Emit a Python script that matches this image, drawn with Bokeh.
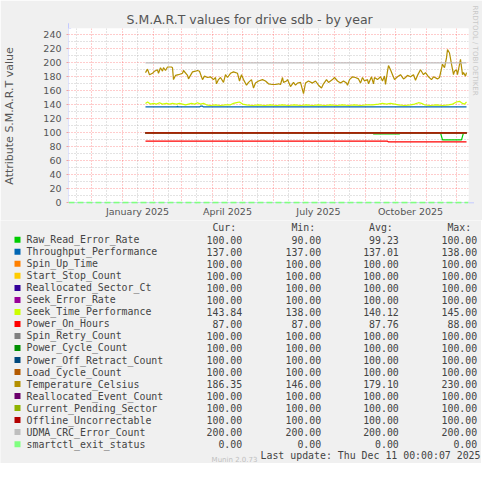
import numpy as np
from bokeh.plotting import figure
from bokeh.layouts import column
from bokeh.models import (FixedTicker, Arrow, NormalHead, Range1d, DatetimeTickFormatter, Title)
from bokeh.core.properties import value
from bokeh.embed import file_html
from bokeh.resources import INLINE

# ---------------- data (days counted from 2025-01-01) ----------------
temp_days = [23, 25, 27, 30, 32, 35, 36, 38, 40, 41, 43, 45, 49, 50, 51, 53, 56, 60, 61, 65,
             66, 70, 73, 75, 77, 80, 82, 85, 88, 91, 93, 94, 96, 98, 101, 103, 105, 108, 111, 115,
             117, 119, 121, 124, 126, 129, 131, 133, 136, 140, 143, 146, 150, 153, 156, 158, 160, 161, 164, 165,
             168, 171, 173, 175, 178, 181, 183, 186, 190, 193, 196, 199, 201, 204, 206, 210, 212, 215, 218, 221,
             224, 225, 227, 230, 233, 236, 238, 240, 242, 245, 246, 249, 251, 252, 255, 258, 260, 262, 263, 265,
             266, 268, 270, 272, 275, 278, 281, 283, 285, 288, 291, 293, 295, 298, 301, 303, 306, 309, 311, 315,
             317, 320, 322, 324, 325, 327, 329, 331, 332, 334, 335, 338, 340, 341, 343, 344]
temp_vals = [186, 191, 183, 185, 188, 190, 185, 193, 188, 193, 189, 194, 194, 193, 176, 182, 183, 185, 189, 182,
             177, 187, 188, 189, 188, 176, 181, 179, 180, 176, 179, 170, 176, 179, 172, 183, 179, 185, 187, 185,
             174, 183, 176, 168, 172, 176, 164, 171, 174, 176, 174, 170, 169, 169, 170, 169, 179, 172, 174, 176,
             166, 172, 168, 171, 172, 156, 171, 174, 171, 174, 168, 164, 170, 176, 172, 176, 179, 174, 171, 174,
             171, 168, 176, 180, 179, 177, 171, 179, 174, 176, 170, 180, 170, 179, 176, 180, 174, 181, 169, 188,
             196, 190, 183, 176, 180, 183, 177, 179, 182, 180, 183, 175, 182, 190, 183, 186, 180, 176, 180, 177,
             179, 198, 193, 207, 219, 214, 198, 183, 188, 190, 183, 205, 183, 186, 181, 186]

seek_days = [23, 25, 28, 31, 34, 37, 40, 44, 47, 50, 54, 57, 60, 63, 66, 69, 72, 75, 78, 81,
             84, 88, 93, 98, 103, 108, 111, 114, 117, 120, 124, 130, 136, 142, 148, 154, 160, 166, 172, 178,
             184, 190, 196, 202, 208, 214, 220, 226, 232, 238, 244, 250, 256, 260, 264, 268, 272, 276, 282, 288,
             292, 296, 299, 302, 308, 314, 320, 326, 330, 334, 337, 340, 342, 344]
seek_vals = [142, 144, 141, 142, 141, 143, 141, 142, 141, 142, 141, 142, 141, 140, 141, 142, 141, 143, 141, 142,
             140, 139, 140, 139, 140, 140, 142, 143, 144, 141, 140, 139, 140, 139, 140, 139, 140, 139, 140, 139,
             140, 139, 140, 139, 140, 139, 140, 139, 140, 139, 140, 140, 141, 142, 141, 142, 141, 140, 139, 140,
             141, 143, 142, 140, 139, 140, 139, 140, 141, 144, 145, 142, 141, 144]

thr_days = [23, 54, 55, 56, 77, 78, 80, 81, 344]
thr_vals = [137, 137, 138, 137, 137, 138, 138, 137, 137]

poh_days = [23, 265, 266, 344]
poh_vals = [88, 88, 87, 87]

rre_days = [23, 250, 251, 277, 278, 318, 320, 339, 341, 344]
rre_vals = [100, 100, 98.6, 98.6, 100, 100, 90, 90, 100, 100]

flat_days = [23, 344]
flat_100 = [100, 100]
udma_vals = [200, 200]
exit_days = [-54, 346]
exit_vals = [0, 0]

names = ["Raw_Read_Error_Rate", "Throughput_Performance", "Spin_Up_Time", "Start_Stop_Count",
         "Reallocated_Sector_Ct", "Seek_Error_Rate", "Seek_Time_Performance", "Power_On_Hours",
         "Spin_Retry_Count", "Power_Cycle_Count", "Power_Off_Retract_Count", "Load_Cycle_Count",
         "Temperature_Celsius", "Reallocated_Event_Count", "Current_Pending_Sector",
         "Offline_Uncorrectable", "UDMA_CRC_Error_Count", "smartctl_exit_status"]
colors = ["#00CC00", "#0066B3", "#FF8000", "#FFCC00", "#330099", "#990099", "#CCFF00", "#FF0000",
          "#808080", "#008F00", "#00487D", "#B35A00", "#B38F00", "#6B006B", "#8FB300", "#B30000",
          "#BEBEBE", "#80FF80"]
cur_vals = [100.00, 137.00, 100.00, 100.00, 100.00, 100.00, 143.84, 87.00, 100.00, 100.00, 100.00,
            100.00, 186.35, 100.00, 100.00, 100.00, 200.00, 0.00]
min_vals = [90.00, 137.00, 100.00, 100.00, 100.00, 100.00, 138.00, 87.00, 100.00, 100.00, 100.00,
            100.00, 146.00, 100.00, 100.00, 100.00, 200.00, 0.00]
avg_vals = [99.23, 137.01, 100.00, 100.00, 100.00, 100.00, 140.12, 87.76, 100.00, 100.00, 100.00,
            100.00, 179.10, 100.00, 100.00, 100.00, 200.00, 0.00]
max_vals = [100.00, 138.00, 100.00, 100.00, 100.00, 100.00, 145.00, 88.00, 100.00, 100.00, 100.00,
            100.00, 230.00, 100.00, 100.00, 100.00, 200.00, 0.00]

series_data = {
    "Raw_Read_Error_Rate": (rre_days, rre_vals),
    "Throughput_Performance": (thr_days, thr_vals),
    "Seek_Time_Performance": (seek_days, seek_vals),
    "Power_On_Hours": (poh_days, poh_vals),
    "Temperature_Celsius": (temp_days, temp_vals),
    "UDMA_CRC_Error_Count": (flat_days, udma_vals),
    "smartctl_exit_status": (exit_days, exit_vals),
}

month_start_days = [-31, 0, 31, 59, 90, 120, 151, 181, 212, 243, 273, 304, 334]
mid_month_days = [-46, -16, 15, 46, 74, 105, 135, 166, 196, 227, 258, 288, 319]
label_days = [15, 105, 196, 288]
y_major = list(range(0, 241, 20))
y_minor = list(range(10, 240, 20))

title_text = "S.M.A.R.T values for drive sdb - by year"
ylabel_text = "Attribute S.M.A.R.T value"
col_heads = ["Cur:", "Min:", "Avg:", "Max:"]
last_update = "Last update: Thu Dec 11 00:00:07 2025"
footer_text = "Munin 2.0.73"
credit_text = "RRDTOOL / TOBI OETIKER"

# ---------------- helpers ----------------
BASE_MS = int(np.datetime64("2025-01-01", "ms").astype("int64"))
DAY_MS = 86400000


def ms(days):
    if isinstance(days, (list, tuple)):
        return [BASE_MS + d * DAY_MS for d in days]
    return BASE_MS + days * DAY_MS


W, H = 481, 463
FX, FY = 67, 203  # frame left / bottom in picture pixels
AX = "#c4caff"
TXT = "#555555"
BG = "#F0F0F0"
TOP_H = 220

# ---------------- chart ----------------
p = figure(frame_width=400, frame_height=175, min_border_left=FX, min_border_right=W - FX - 400,
           min_border_top=FY - 175, min_border_bottom=TOP_H - FY,
           x_axis_type="datetime", x_range=Range1d(ms(-54), ms(346)), y_range=Range1d(-1, 249),
           output_backend="svg", toolbar_location=None,
           background_fill_color="white", border_fill_color=BG, outline_line_color=None)
p.frame_align = False
p.title = Title(text=title_text, align="left", offset=58, standoff=3,
                text_font="DejaVu Sans", text_font_size="12.5px", text_font_style="normal",
                text_color="#555555")
p.add_layout(Title(text=credit_text, align="left", offset=-23, standoff=0, vertical_align="top",
                   text_font="DejaVu Sans", text_font_size="7px", text_font_style="normal",
                   text_color="#c8c8c8"), "right")

p.xgrid.ticker = FixedTicker(ticks=ms(month_start_days), minor_ticks=ms(mid_month_days))
p.ygrid.ticker = FixedTicker(ticks=y_major, minor_ticks=y_minor)
for g in (p.xgrid, p.ygrid):
    g.grid_line_color = "#ff0000"
    g.grid_line_alpha = 0.4
    g.grid_line_dash = "1 2"
    g.minor_grid_line_color = "#999999"
    g.minor_grid_line_alpha = 0.55
    g.minor_grid_line_dash = "1 2"

p.xaxis.ticker = FixedTicker(ticks=ms(label_days))
fmt = "%B %Y"
p.xaxis.formatter = DatetimeTickFormatter(milliseconds=fmt, seconds=fmt, minsec=fmt, minutes=fmt,
                                          hourmin=fmt, hours=fmt, days=fmt, months=fmt, years=fmt)
p.yaxis.ticker = FixedTicker(ticks=y_major)
for ax in (p.xaxis, p.yaxis):
    ax.axis_line_color = None
    ax.minor_tick_line_color = None
    ax.major_label_text_font = "DejaVu Sans"
    ax.major_label_text_font_size = "9.5px"
    ax.major_label_text_color = TXT
p.xaxis.major_tick_line_color = None
p.xaxis.major_tick_out = 0
p.xaxis.major_label_standoff = 2
p.yaxis.major_tick_line_color = "#f0a0a0"
p.yaxis.major_tick_in = 0
p.yaxis.major_tick_out = 2
p.yaxis.major_label_standoff = 5
p.yaxis.axis_label = ylabel_text
p.yaxis.axis_label_text_font = "DejaVu Sans"
p.yaxis.axis_label_text_font_size = "11px"
p.yaxis.axis_label_text_font_style = "normal"
p.yaxis.axis_label_text_color = TXT
p.yaxis.axis_label_standoff = 24

p.add_layout(Arrow(end=NormalHead(size=5, fill_color=AX, line_color=AX),
                   x_start=ms(-54), y_start=0, x_end=ms(-54), y_end=256.5,
                   line_color=AX, line_width=1, level="underlay"))
p.add_layout(Arrow(end=NormalHead(size=5, fill_color=AX, line_color=AX),
                   x_start=ms(-54), y_start=0, x_end=ms(351.5), y_end=0,
                   line_color=AX, line_width=1, level="underlay"))

for name, col in zip(names, colors):
    days, vals = series_data.get(name, (flat_days, flat_100))
    if name == "smartctl_exit_status":
        p.line(ms(days), vals, line_color=col, line_width=2, line_dash="6 3")
    else:
        p.line(ms(days), vals, line_color=col, line_width=1.2)

# ---------------- legend panel (coordinates = picture pixels) ----------------
p2 = figure(width=W, height=H - TOP_H, x_range=Range1d(0, W), y_range=Range1d(H, TOP_H),
            min_border=0, x_axis_location=None, y_axis_location=None, toolbar_location=None,
            output_backend="svg", background_fill_color=BG, border_fill_color=BG,
            outline_line_color=None)
p2.frame_align = False
p2.grid.visible = False

LF = value("9.9px")
MONO = value("DejaVu Sans Mono")
LC = "#444444"
col_right = [241.7, 320.7, 398.3, 476.7]
row_y = [239.3 + 12.02 * i for i in range(len(names))]

p2.rect(x=[17] * len(names), y=row_y, width=6, height=6, fill_color=colors, line_color=None)
p2.text(x=[26] * len(names), y=row_y, text=names, text_font=MONO, text_font_size=LF,
        text_color=LC, text_align="left", text_baseline="middle")
for vals, xr, head in zip((cur_vals, min_vals, avg_vals, max_vals), col_right, col_heads):
    p2.text(x=[xr] * len(vals), y=row_y, text=[f"{v:.2f}" for v in vals], text_font=MONO,
            text_font_size=LF, text_color=LC, text_align="right", text_baseline="middle")
    p2.text(x=[xr - 6], y=[227], text=[head], text_font=MONO, text_font_size=LF,
            text_color=LC, text_align="right", text_baseline="middle")
p2.text(x=[480], y=[455], text=[last_update], text_font=MONO, text_font_size=LF,
        text_color=LC, text_align="right", text_baseline="middle")
p2.text(x=[234], y=[459], text=[footer_text], text_font=value("DejaVu Sans"),
        text_font_size=value("7px"), text_color="#c0c0c0", text_align="center",
        text_baseline="middle")

layout = column(p, p2, spacing=0)
open("out.html", "w").write(file_html(layout, INLINE))
